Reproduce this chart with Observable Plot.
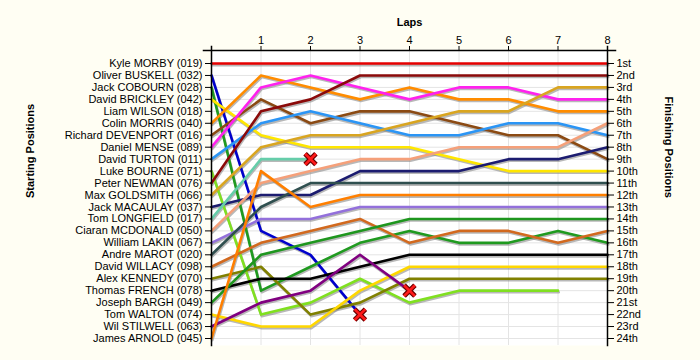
<!DOCTYPE html>
<html>
<head>
<meta charset="utf-8">
<script src="https://cdn.jsdelivr.net/npm/d3@7"></script>
<script src="https://cdn.jsdelivr.net/npm/@observablehq/plot@0.6"></script>
<style>
  html, body { margin: 0; padding: 0; background: #fffef3; }
</style>
</head>
<body>
<div id="chart"></div>
<script>
const laps = [0, 1, 2, 3, 4, 5, 6, 7, 8];
const lapTicks = [1, 2, 3, 4, 5, 6, 7, 8];
const riders = [
  "Kyle MORBY (019)", "Oliver BUSKELL (032)", "Jack COBOURN (028)", "David BRICKLEY (042)",
  "Liam WILSON (018)", "Colin MORRIS (040)", "Richard DEVENPORT (016)", "Daniel MENSE (089)",
  "David TURTON (011)", "Luke BOURNE (071)", "Peter NEWMAN (076)", "Max GOLDSMITH (066)",
  "Jack MACAULAY (037)", "Tom LONGFIELD (017)", "Ciaran MCDONALD (050)", "William LAKIN (067)",
  "Andre MAROT (020)", "David WILLACY (098)", "Alex KENNEDY (070)", "Thomas FRENCH (078)",
  "Joseph BARGH (049)", "Tom WALTON (074)", "Wil STILWELL (063)", "James ARNOLD (045)"
];
const finishLabels = [
  "1st", "2nd", "3rd", "4th", "5th", "6th", "7th", "8th", "9th", "10th", "11th", "12th",
  "13th", "14th", "15th", "16th", "17th", "18th", "19th", "20th", "21st", "22nd", "23rd", "24th"
];
const riderColors = [
  "#e60000", "#0000cd", "#1f9a1f", "#ffe600",
  "#999999", "#ff8c00", "#8b4a13", "#ff22ee",
  "#2b95f5", "#80e020", "#8b0a0a", "#d9a520",
  "#1c1c70", "#66cdaa", "#f5a07a", "#9370db",
  "#2f4f4f", "#d2691e", "#808000", "#000000",
  "#1e961e", "#ffd700", "#800080", "#ff7f00"
];
// position of each rider at laps 0..8 (start order); empty = no laps recorded
const lapPositions = [
  [1, 1, 1, 1, 1, 1, 1, 1, 1],
  [2, 15, 17, 22],
  [3, 20, 18, 16, 15, 16, 16, 15, 16],
  [4, 7, 8, 8, 8, 9, 10, 10, 10],
  [],
  [6, 2, 3, 4, 3, 4, 4, 5, 5],
  [7, 4, 6, 5, 5, 6, 7, 7, 9],
  [8, 3, 2, 3, 4, 3, 3, 4, 4],
  [9, 6, 5, 6, 7, 7, 6, 6, 7],
  [10, 22, 21, 19, 21, 20, 20, 20],
  [11, 5, 4, 2, 2, 2, 2, 2, 2],
  [12, 8, 7, 7, 6, 5, 5, 3, 3],
  [13, 12, 12, 10, 10, 10, 9, 9, 8],
  [14, 9, 9],
  [15, 11, 10, 9, 9, 8, 8, 8, 6],
  [16, 14, 14, 13, 13, 13, 13, 13, 13],
  [17, 13, 11, 11, 11, 11, 11, 11, 11],
  [18, 16, 15, 14, 16, 15, 15, 16, 15],
  [19, 18, 22, 21, 19, 19, 19, 19, 19],
  [20, 19, 19, 18, 17, 17, 17, 17, 17],
  [21, 17, 16, 15, 14, 14, 14, 14, 14],
  [22, 23, 23, 20, 18, 18, 18, 18, 18],
  [23, 21, 20, 17, 20],
  [24, 10, 13, 12, 12, 12, 12, 12, 12]
];
const retiredRiders = ["Tom LONGFIELD (017)", "Oliver BUSKELL (032)", "Wil STILWELL (063)"];

const positionTicks = finishLabels.map((_, i) => i + 1);

const rows = riders.flatMap((rider, i) =>
  lapPositions[i].map((pos, k) => ({rider, lap: laps[k], pos, color: riderColors[i]}))
);
const retiredPoints = retiredRiders.map(r => {
  const pts = rows.filter(d => d.rider === r);
  return pts[pts.length - 1];
});

const font = "'Liberation Sans', Arial, sans-serif";

const chart = Plot.plot({
  width: 700,
  height: 360,
  marginLeft: 211,
  marginRight: 93,
  marginTop: 50,
  marginBottom: 15,
  style: {background: "#fffef3", fontFamily: font, fontSize: "11px", color: "#000"},
  x: {domain: [0, 8], range: [211, 607]},
  y: {domain: [1, 24], range: [63, 338]},
  marks: [
    Plot.frame({fill: "white", stroke: "none"}),
    Plot.ruleX(lapTicks, {x: d => d, stroke: "#e4e4e4", strokeWidth: 1}),
    Plot.ruleY(positionTicks, {y: d => d, stroke: "#e4e4e4", strokeWidth: 1}),
    Plot.line(rows, {x: "lap", y: "pos", z: "rider", stroke: "#888", strokeOpacity: 0.6, strokeWidth: 2.6, dx: 0.8, dy: 1.6}),
    Plot.line(rows, {x: "lap", y: "pos", z: "rider", stroke: "color", strokeWidth: 2.6}),
    Plot.dot(retiredPoints, {x: "lap", y: "pos", symbol: "times", r: 5, stroke: "#6a0000", strokeWidth: 5}),
    Plot.dot(retiredPoints, {x: "lap", y: "pos", symbol: "times", r: 5, stroke: "#ff1a1a", strokeWidth: 2.6}),
    Plot.frame({anchor: "top", stroke: "#000", strokeWidth: 1.5, insetLeft: -8, insetRight: -8}),
    Plot.frame({anchor: "left", stroke: "#000", strokeWidth: 1.5, insetTop: -4}),
    Plot.frame({anchor: "right", stroke: "#000", strokeWidth: 1.5, insetTop: -4}),
    Plot.axisX(lapTicks, {anchor: "top", tickSize: 5, tickPadding: 2, label: null, fontSize: 11}),
    Plot.axisY(positionTicks, {anchor: "left", tickSize: 6, tickPadding: 3, label: null, tickFormat: d => riders[d - 1], fontSize: 11}),
    Plot.axisY(positionTicks, {anchor: "right", tickSize: 6, tickPadding: 3, label: null, tickFormat: d => finishLabels[d - 1], fontSize: 11}),
    Plot.text(["Laps"], {text: d => d, frameAnchor: "top", dy: -32, fontWeight: "bold", fontSize: 11}),
    Plot.text(["Starting Positions"], {text: d => d, frameAnchor: "left", dx: -181, rotate: -90, fontWeight: "bold", fontSize: 11}),
    Plot.text(["Finishing Positions"], {text: d => d, frameAnchor: "right", dx: 61, rotate: 90, fontWeight: "bold", fontSize: 11})
  ]
});
document.getElementById("chart").appendChild(chart);
</script>
</body>
</html>
